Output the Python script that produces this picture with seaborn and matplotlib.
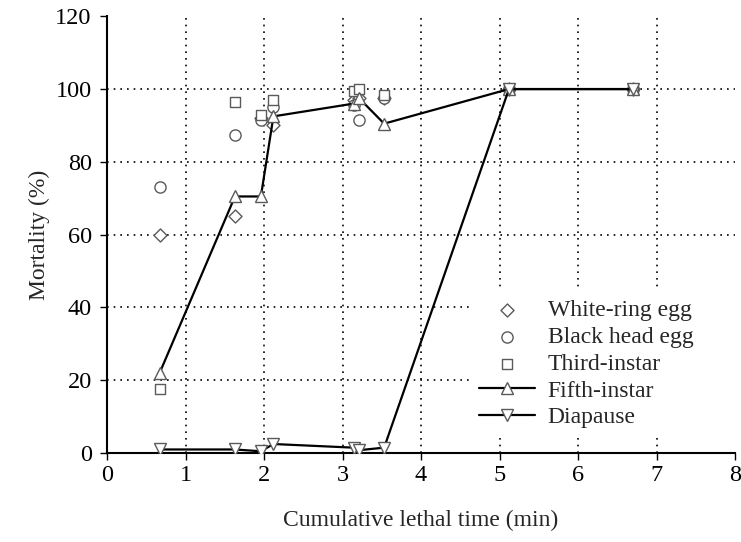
import matplotlib
matplotlib.use("Agg")
import matplotlib.pyplot as plt
import seaborn as sns
import pandas as pd

time_min = [0.67, 1.63, 1.96, 2.12, 3.14, 3.21, 3.53, 5.12, 6.70]
white_ring_egg = [60, 65, 92, 90, 97, 97.5, 97.5, 100, 100]
black_head_egg = [73, 87.5, 91.5, 95, 95.5, 91.5, 97.5, 100, 100]
third_instar = [17.5, 96.5, 93, 97, 99.5, 100, 98.5, 100, 100]
fifth_instar = [22, 70.5, 70.5, 92.5, 96, 97.5, 90.5, 100, 100]
diapause = [1, 1, 0.5, 2.5, 1.5, 0.8, 1.5, 100, 100]

x_ticks = [0, 1, 2, 3, 4, 5, 6, 7, 8]
y_ticks = [0, 20, 40, 60, 80, 100, 120]

sns.set_style("ticks")
plt.rcParams['font.family'] = ['Liberation Serif', 'DejaVu Serif']

df = pd.DataFrame({"t": time_min, "wr": white_ring_egg, "bh": black_head_egg,
                   "th": third_instar, "fi": fifth_instar, "di": diapause})

fig = plt.figure(figsize=(7.41, 5.42), dpi=100)
ax = fig.add_axes([0.1444, 0.164, 0.8476, 0.806])

edge = "#5a5a5a"
mk = dict(facecolor="white", edgecolor=edge, linewidth=1.0)
sns.scatterplot(data=df, x="t", y="wr", marker="D", s=44, ax=ax, label="White-ring egg",
                zorder=3, **mk)
sns.scatterplot(data=df, x="t", y="bh", marker="o", s=65, ax=ax, label="Black head egg",
                zorder=3, **mk)
sns.scatterplot(data=df, x="t", y="th", marker="s", s=50, ax=ax, label="Third-instar",
                zorder=3, **mk)
sns.lineplot(data=df, x="t", y="fi", marker="^", markersize=8.5, color="black", lw=1.6,
             markerfacecolor="white", markeredgecolor=edge, markeredgewidth=1.0,
             ax=ax, label="Fifth-instar", zorder=4, sort=False)
sns.lineplot(data=df, x="t", y="di", marker="v", markersize=8.5, color="black", lw=1.6,
             markerfacecolor="white", markeredgecolor=edge, markeredgewidth=1.0,
             ax=ax, label="Diapause", zorder=4, sort=False)

ax.set_xlim(0, 8)
ax.set_ylim(0, 120)
ax.set_xticks(x_ticks)
ax.set_yticks(y_ticks)
ax.tick_params(labelsize=17.5, direction="out", length=5, width=1, colors="black")
ax.tick_params(axis="y", pad=6)
ax.grid(True, linestyle=(0, (1, 3)), color="black", linewidth=1.2)
ax.xaxis.get_gridlines()[-1].set_visible(False)
ax.yaxis.get_gridlines()[-1].set_visible(False)
ax.set_axisbelow(True)
for side in ["top", "right"]:
    ax.spines[side].set_visible(False)
for side in ["left", "bottom"]:
    ax.spines[side].set_color("black")
    ax.spines[side].set_linewidth(1.5)
ax.set_xlabel("Cumulative lethal time (min)", fontsize=17, labelpad=17)
ax.set_ylabel("Mortality (%)", fontsize=17, labelpad=4)

leg = ax.legend(loc="lower left", bbox_to_anchor=(0.577, 0.035, 0.423, 0.3), mode="expand",
                frameon=True, fontsize=17, handlelength=2.37, labelspacing=0.22,
                handletextpad=0.55, borderaxespad=0, fancybox=False, framealpha=1.0)
leg.get_frame().set_facecolor("white")
leg.get_frame().set_edgecolor("none")
fig.savefig("out.png", dpi=100)
